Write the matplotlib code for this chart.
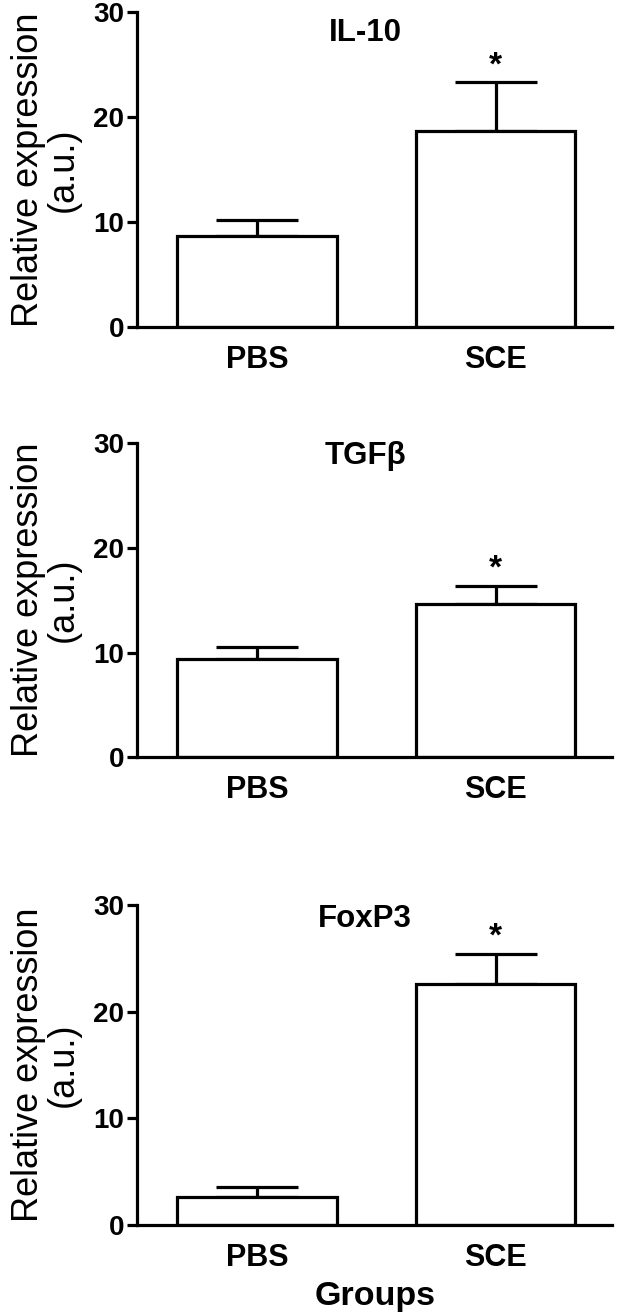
import numpy as np
import matplotlib
matplotlib.use("Agg")
import matplotlib.pyplot as plt

plt.rcParams['font.family'] = ['Liberation Sans', 'DejaVu Sans']

groups = ["PBS", "SCE"]
genes = ["IL-10", "TGF\u03b2", "FoxP3"]
# moyennes et erreurs
means = {"IL-10": [8.7, 18.7], "TGF\u03b2": [9.4, 14.6], "FoxP3": [2.6, 22.6]}
errs = {"IL-10": [1.5, 4.6], "TGF\u03b2": [1.1, 1.8], "FoxP3": [1.0, 2.8]}
signif = {"IL-10": [False, True], "TGF\u03b2": [False, True], "FoxP3": [False, True]}
yticks = [0, 10, 20, 30]

fig = plt.figure(figsize=(6.18, 13.12), dpi=100)
# [gauche, bas, largeur, hauteur] en fraction de figure
boxes = [[0.222, 0.7508, 0.769, 0.240],
         [0.222, 0.4230, 0.769, 0.239],
         [0.222, 0.0663, 0.769, 0.244]]
title_y = [0.935, 0.96, 0.955]
lw = 2.3

for i, g in enumerate(genes):
    ax = fig.add_axes(boxes[i])
    x = np.arange(len(groups))
    ax.bar(x, means[g], width=0.67, color="white", edgecolor="black", linewidth=lw, zorder=2)
    ax.errorbar(x, means[g], yerr=[np.zeros(len(x)), errs[g]], fmt="none", ecolor="black",
                elinewidth=lw, capsize=29.5, capthick=lw, zorder=1)
    for xi, m, e, s in zip(x, means[g], errs[g], signif[g]):
        if s:
            ax.text(xi, m + e + 0.1, "*", ha="center", va="bottom", fontsize=24, fontweight="bold")
    ax.set_xlim(-0.504, 1.49)
    ax.set_ylim(0, 30)
    ax.set_yticks(yticks)
    ax.set_xticks(x)
    ax.set_xticklabels(groups)
    for sp in ["top", "right"]:
        ax.spines[sp].set_visible(False)
    for sp in ["left", "bottom"]:
        ax.spines[sp].set_linewidth(lw)
    ax.tick_params(axis="y", length=7.5, width=lw, pad=2, labelsize=20)
    ax.tick_params(axis="x", length=0, pad=13, labelsize=22)
    for lab in ax.get_xticklabels() + ax.get_yticklabels():
        lab.set_fontweight("bold")
    ax.set_ylabel("Relative expression\n(a.u.)", fontsize=26, linespacing=1.0, labelpad=9)
    ax.text(0.48, title_y[i], g, transform=ax.transAxes, ha="center", va="center",
            fontsize=22.5, fontweight="bold")
    if i == len(genes) - 1:
        ax.set_xlabel("Groups", fontsize=24.5, fontweight="bold", labelpad=6)

fig.savefig("out.png", dpi=100)
